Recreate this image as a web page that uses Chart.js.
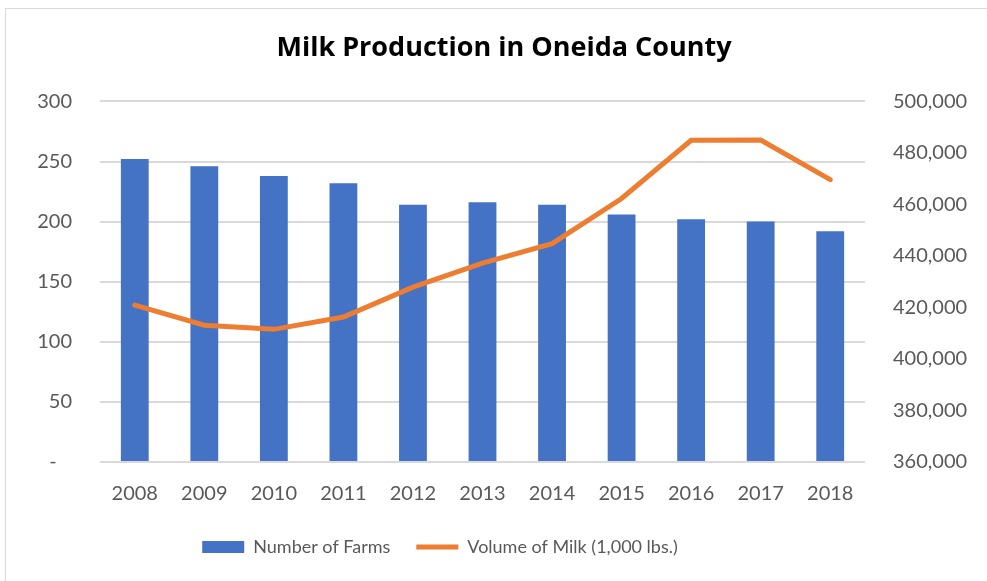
<!DOCTYPE html>
<html>
<head>
<meta charset="utf-8">
<script src="https://cdn.jsdelivr.net/npm/chart.js@4/dist/chart.umd.min.js"></script>
<style>
    body { margin: 0; background: #fff; }
    #frame { position: absolute; left: 5px; top: 8px; width: 990px; height: 580px; border: 1px solid #d9d9d9; box-sizing: border-box; }
    #wrap { position: absolute; left: 0; top: 0; width: 987px; height: 581px; }
</style>
</head>
<body>
<div id="frame"></div>
<div id="wrap"><canvas id="milkChart"></canvas></div>
<script>
const years = ['2008', '2009', '2010', '2011', '2012', '2013', '2014', '2015', '2016', '2017', '2018'];
const farms = [252, 246, 238, 232, 214, 216, 214, 206, 202, 200, 192];
const milkVolume = [420900, 413100, 411500, 416300, 427900, 437200, 444800, 462300, 484900, 485000, 469600];

const fontFamily = 'Lato, "Open Sans", sans-serif';
const tickColor = '#595959';

// the legend sits a little left of the title in the original
const legendShift = {
    id: 'legendShift',
    afterLayout(chart) {
        chart.legend.left -= 64;
        chart.legend.right -= 64;
    }
};

const ctx = document.getElementById('milkChart').getContext('2d');
new Chart(ctx, {
    type: 'bar',
    data: {
        labels: years,
        datasets: [
            {
                type: 'bar',
                label: 'Number of Farms',
                data: farms,
                backgroundColor: '#4472c4',
                borderWidth: 0,
                barPercentage: 0.4,
                categoryPercentage: 1,
                yAxisID: 'y',
                order: 2
            },
            {
                type: 'line',
                label: 'Volume of Milk (1,000 lbs.)',
                data: milkVolume,
                borderColor: '#ed7d31',
                backgroundColor: '#ed7d31',
                borderWidth: 5,
                borderCapStyle: 'round',
                pointRadius: 0,
                fill: false,
                yAxisID: 'y1',
                order: 1
            }
        ]
    },
    plugins: [legendShift],
    options: {
        responsive: true,
        maintainAspectRatio: false,
        animation: false,
        layout: { padding: { left: 31, right: 10, top: 10, bottom: 15 } },
        plugins: {
            title: {
                display: true,
                text: 'Milk Production in Oneida County',
                color: '#000',
                font: { family: '"Open Sans", sans-serif', size: 27, weight: 'bold' },
                padding: { top: 22, bottom: 37 }
            },
            legend: {
                position: 'bottom',
                labels: {
                    usePointStyle: true,
                    pointStyleWidth: 42,
                    boxHeight: 12,
                    padding: 26,
                    color: tickColor,
                    font: { family: fontFamily, size: 18 },
                    sort: (a, b) => a.datasetIndex - b.datasetIndex,
                    generateLabels: chart => {
                        const items = Chart.defaults.plugins.legend.labels.generateLabels(chart);
                        items.forEach(item => {
                            item.pointStyle = item.datasetIndex === 0 ? 'rect' : 'line';
                        });
                        return items;
                    }
                }
            },
            tooltip: { enabled: false }
        },
        scales: {
            x: {
                grid: { display: false, drawTicks: false },
                border: { display: false },
                ticks: { color: tickColor, font: { family: fontFamily, size: 20 }, padding: 20 },
                afterFit: scale => { scale.height = 50; }
            },
            y: {
                position: 'left',
                min: 0,
                max: 300,
                grid: { color: '#d9d9d9', lineWidth: 2, drawTicks: false },
                border: { display: false },
                ticks: {
                    stepSize: 50,
                    padding: 28,
                    color: tickColor,
                    font: { family: fontFamily, size: 20 },
                    callback: v => v === 0 ? '-   ' : v
                },
                afterFit: scale => { scale.width = 69; }
            },
            y1: {
                position: 'right',
                min: 360000,
                max: 500000,
                grid: { display: false, drawTicks: false },
                border: { display: false },
                ticks: {
                    stepSize: 20000,
                    padding: 28,
                    color: tickColor,
                    font: { family: fontFamily, size: 20 },
                    callback: v => v.toLocaleString('en-US')
                },
                afterFit: scale => { scale.width = 112; }
            }
        }
    }
});
</script>
</body>
</html>
